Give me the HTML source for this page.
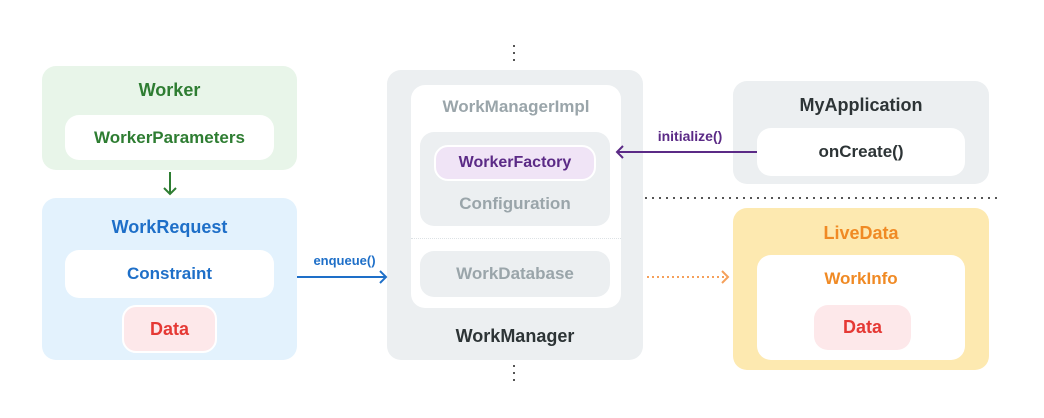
<!DOCTYPE html>
<html><head><style>
body{margin:0;width:1044px;height:418px;background:#fff;position:relative;overflow:hidden;font-family:"Liberation Sans",sans-serif;font-weight:bold}
.b{position:absolute;border-radius:14px;display:flex;align-items:center;justify-content:center;font-size:17px;box-sizing:border-box}
.t{position:absolute;font-size:18px;text-align:center}
</style></head><body>
<div class="b" style="left:42px;top:66px;width:255px;height:104px;background:#e8f5e9"></div>
<div class="t" style="left:42px;width:255px;top:80px;color:#2e7d32">Worker</div>
<div class="b" style="left:65px;top:115px;width:209px;height:45px;background:#fff;color:#2e7d32">WorkerParameters</div>
<div class="b" style="left:42px;top:198px;width:255px;height:162px;background:#e3f2fd"></div>
<div class="t" style="left:42px;width:255px;top:217px;color:#1e6fc8">WorkRequest</div>
<div class="b" style="left:65px;top:250px;width:209px;height:48px;background:#fff;color:#1e6fc8">Constraint</div>
<div class="b" style="left:122px;top:305px;width:95px;height:48px;background:#fde8ea;border:2px solid #fff;color:#e53935;font-size:18px">Data</div>

<div class="b" style="left:387px;top:70px;width:256px;height:290px;background:#eceff1"></div>
<div class="b" style="left:411px;top:85px;width:210px;height:223px;background:#fff"></div>
<div class="t" style="left:411px;width:210px;top:97px;color:#9aa5aa;font-size:17px">WorkManagerImpl</div>
<div class="b" style="left:420px;top:132px;width:190px;height:94px;background:#eceff1"></div>
<div class="b" style="left:434px;top:145px;width:162px;height:36px;background:#f0e4f6;border:2px solid #fff;color:#5b2a86;font-size:16px">WorkerFactory</div>
<div class="t" style="left:420px;width:190px;top:194px;color:#9aa5aa;font-size:17px">Configuration</div>
<div style="position:absolute;left:411px;width:210px;top:238px;border-top:1px dotted #dde2e5"></div>
<div class="b" style="left:420px;top:251px;width:190px;height:46px;background:#eceff1;color:#9aa5aa">WorkDatabase</div>
<div class="t" style="left:387px;width:256px;top:326px;color:#2d3436">WorkManager</div>

<div class="b" style="left:733px;top:81px;width:256px;height:103px;background:#eceff1"></div>
<div class="t" style="left:733px;width:256px;top:95px;color:#2d3436">MyApplication</div>
<div class="b" style="left:757px;top:128px;width:208px;height:48px;background:#fff;color:#2d3436">onCreate()</div>

<div class="b" style="left:733px;top:208px;width:256px;height:162px;background:#fde9b0"></div>
<div class="t" style="left:733px;width:256px;top:223px;color:#f08a24">LiveData</div>
<div class="b" style="left:757px;top:255px;width:208px;height:105px;background:#fff"></div>
<div class="t" style="left:757px;width:208px;top:269px;color:#f08a24;font-size:17px">WorkInfo</div>
<div class="b" style="left:814px;top:305px;width:97px;height:45px;background:#fde8ea;color:#e53935;font-size:18px">Data</div>

<div class="t" style="left:297px;width:95px;top:253px;font-size:13px;color:#1e6fc8">enqueue()</div>
<div class="t" style="left:640px;width:100px;top:128px;font-size:14px;color:#5b2a86">initialize()</div>

<svg style="position:absolute;left:0;top:0" width="1044" height="418">
<g fill="none" stroke-width="2">
<path d="M170 172V194M164 188L170 194L176 188" stroke="#2e7d32"/>
<path d="M297 277H386M380 271L386 277L380 283" stroke="#1e6fc8"/>
<path d="M757 152H617M623 146L617 152L623 158" stroke="#5b2a86"/>
<path d="M647 277H728" stroke="#f5a05a" stroke-dasharray="2 3"/>
<path d="M722 271L728 277L722 283" stroke="#f5a05a"/>
<path d="M645 198H1000" stroke="#555" stroke-dasharray="2 5"/>
<path d="M514 45V63M514 365V384" stroke="#555" stroke-dasharray="2 5"/>
</g></svg>
</body></html>
